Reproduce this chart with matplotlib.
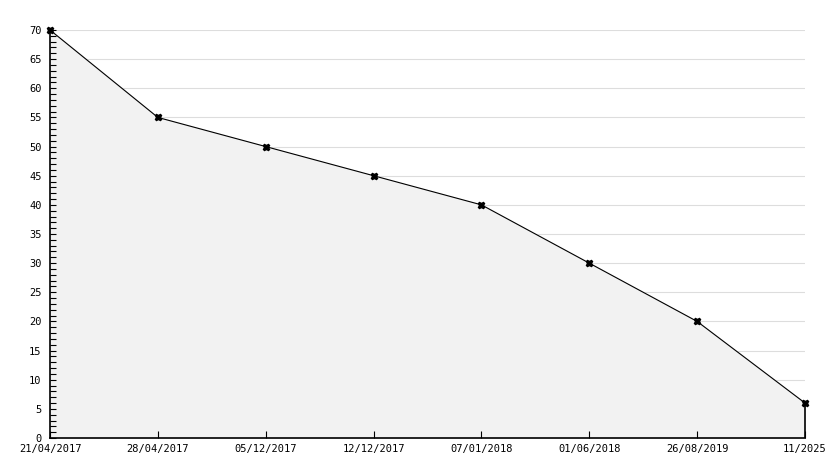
import matplotlib.pyplot as plt
import numpy as np
from matplotlib.ticker import MultipleLocator

dates = ["21/04/2017", "28/04/2017", "05/12/2017", "12/12/2017",
         "07/01/2018", "01/06/2018", "26/08/2019", "11/2025"]
values = [70, 55, 50, 45, 40, 30, 20, 6]

plt.rcParams['font.family'] = 'DejaVu Sans Mono'

fig = plt.figure(figsize=(8.34, 4.68), dpi=100)
ax = fig.add_axes([50/834, 30/468, 755/834, 408/468])

x = np.arange(len(values))
# grid drawn by hand so the ticks can stay on top of the fill
for yv in range(5, 71, 5):
    ax.axhline(yv, color='#dddddd', lw=0.8, zorder=0.5)
ax.fill_between(x, values, 0, color='#f2f2f2', zorder=1)
ax.vlines(x[-1], 0, values[-1], color='black', lw=1.2, zorder=3, clip_on=False)
ax.plot(x, values, color='black', lw=0.8, marker='X', ms=5, zorder=4, clip_on=False)

ax.set_xlim(0, len(values) - 1)
ax.set_ylim(0, 70)
ax.set_xticks(x)
ax.set_xticklabels(dates, fontsize=7.5)
ax.yaxis.set_major_locator(MultipleLocator(5))
ax.yaxis.set_minor_locator(MultipleLocator(1))
ax.tick_params(axis='y', labelsize=7.5, direction='in', length=4, width=0.8, pad=6)
ax.tick_params(axis='y', which='minor', direction='in', length=4, width=0.8)
ax.tick_params(axis='x', direction='in', length=5, width=0.8, pad=4)
ax.set_axisbelow(False)

for s in ['top', 'right']:
    ax.spines[s].set_visible(False)
for s in ['left', 'bottom']:
    ax.spines[s].set_linewidth(1.2)
    ax.spines[s].set_zorder(4)

fig.savefig('out.png', dpi=100)
